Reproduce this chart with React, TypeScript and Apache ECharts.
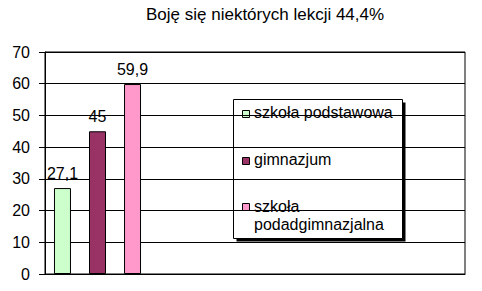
import React, { useEffect, useRef } from "react";
import * as echarts from "echarts";

const title = "Boję się niektórych lekcji 44,4%";
const categories = ["", "", "", ""];
const seriesNames = ["szkoła podstawowa", "gimnazjum", "szkoła podadgimnazjalna"];
const seriesValues = [27.1, 45, 59.9];
const seriesColors = ["#CCFFCC", "#993366", "#FF99CC"];
const yTicks = [0, 10, 20, 30, 40, 50, 60, 70];

const FONT = "Arial, 'Liberation Sans', sans-serif";

export default function App() {
  const ref = useRef<HTMLDivElement>(null);
  useEffect(() => {
    if (!ref.current) return;
    const chart = echarts.init(ref.current, undefined, { renderer: "svg" });
    const series = seriesNames.map((name, i) => ({
      name,
      type: "bar",
      data: categories.map((_, ci) => (ci === 0 ? seriesValues[i] : null)),
      barWidth: 17,
      barGap: "106%",
      itemStyle: { color: seriesColors[i], borderColor: "#000", borderWidth: 1 },
      label: {
        show: true,
        position: "top",
        distance: 7,
        color: "#000",
        fontFamily: FONT,
        fontSize: 16,
        formatter: (p: any) => String(p.value).replace(".", ","),
      },
    }));

    const legendX = 233;
    const legendY = 99;
    const legendW = 169;
    const legendH = 139;
    const markerY = [110, 157, 203];
    const textTop = [103, 150.5, 197];
    const legendChildren: any[] = [
      {
        type: "rect",
        shape: { x: legendX + 3.5, y: legendY + 3.5, width: legendW, height: legendH },
        style: { fill: "#000" },
      },
      {
        type: "rect",
        shape: { x: legendX + 0.5, y: legendY + 0.5, width: legendW, height: legendH },
        style: { fill: "#fff", stroke: "#000", lineWidth: 1 },
      },
    ];
    seriesNames.forEach((name, i) => {
      legendChildren.push({
        type: "rect",
        shape: { x: 242.5, y: markerY[i] + 0.5, width: 7, height: 7 },
        style: { fill: seriesColors[i], stroke: "#000", lineWidth: 1 },
      });
      legendChildren.push({
        type: "text",
        x: 254,
        y: textTop[i],
        style: {
          text: name,
          fill: "#000",
          font: `16px ${FONT}`,
          width: 165,
          overflow: "break",
          lineHeight: 18,
          verticalAlign: "top",
          align: "left",
        },
      });
    });

    chart.setOption({
      animation: false,
      backgroundColor: "#fff",
      title: {
        text: title,
        left: 146,
        top: 6,
        padding: 0,
        textStyle: { color: "#000", fontFamily: FONT, fontSize: 17, fontWeight: "normal" },
      },
      grid: {
        left: 45,
        right: 17,
        top: 52,
        bottom: 17,
        show: true,
        borderColor: "#000",
        borderWidth: 1,
        backgroundColor: "#fff",
      },
      xAxis: {
        type: "category",
        data: categories,
        axisLine: { lineStyle: { color: "#000" } },
        axisTick: { show: false },
        axisLabel: { show: false },
      },
      yAxis: {
        type: "value",
        min: yTicks[0],
        max: yTicks[yTicks.length - 1],
        interval: yTicks[1] - yTicks[0],
        axisLine: { show: true, lineStyle: { color: "#000" } },
        axisTick: { show: true, length: 6, lineStyle: { color: "#000" } },
        axisLabel: { color: "#000", fontFamily: FONT, fontSize: 16, margin: 15 },
        splitLine: { lineStyle: { color: "#000", width: 1 } },
      },
      series,
      graphic: [{ type: "group", children: legendChildren }],
    });
    return () => chart.dispose();
  }, []);
  return <div ref={ref} style={{ width: 482, height: 291, position: "absolute", left: 0, top: 0 }} />;
}
